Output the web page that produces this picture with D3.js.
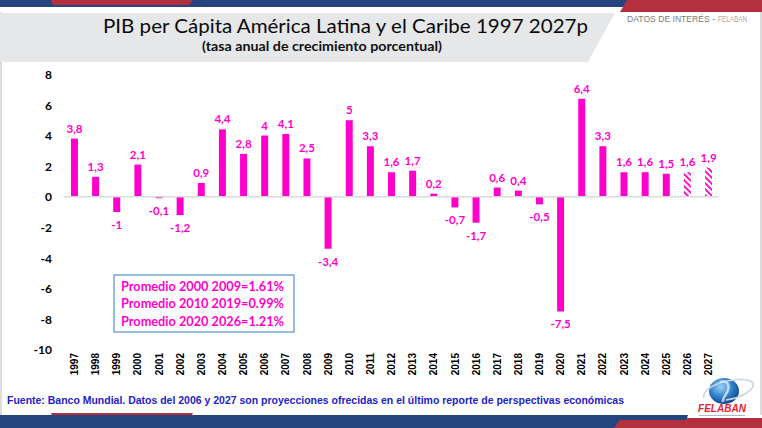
<!DOCTYPE html>
<html><head><meta charset="utf-8">
<script src="https://cdn.jsdelivr.net/npm/d3@7"></script>
<style>
html,body{margin:0;padding:0;background:#fff;}
svg{display:block;}
</style></head>
<body>
<svg id="chart" width="762" height="428"></svg>
<script>
const years = ["1997","1998","1999","2000","2001","2002","2003","2004","2005","2006","2007","2008","2009","2010","2011","2012","2013","2014","2015","2016","2017","2018","2019","2020","2021","2022","2023","2024","2025","2026","2027"];
const growth = [3.8,1.3,-1,2.1,-0.1,-1.2,0.9,4.4,2.8,4,4.1,2.5,-3.4,5,3.3,1.6,1.7,0.2,-0.7,-1.7,0.6,0.4,-0.5,-7.5,6.4,3.3,1.6,1.6,1.5,1.6,1.9];
const projectedYears = ["2026","2027"];
const yTicks = [8,6,4,2,0,-2,-4,-6,-8,-10];
const averages = ["Promedio 2000 2009=1.61%","Promedio 2010 2019=0.99%","Promedio 2020 2026=1.21%"];
const titleText = "PIB per Cápita América Latina y el Caribe 1997 2027p";
const subtitleText = "(tasa anual de crecimiento porcentual)";
const sourceText = "Fuente: Banco Mundial. Datos del 2006 y 2027 son proyecciones ofrecidas en el último reporte de perspectivas económicas";

const data = years.map((y,i)=>({year:y, value:growth[i], proj: projectedYears.includes(y)}));

const svg = d3.select("#chart");
const PINK = "#FF00CC";
const defs = svg.append("defs");
const pat = defs.append("pattern").attr("id","hatch").attr("patternUnits","userSpaceOnUse")
  .attr("width",6).attr("height",6);
pat.append("rect").attr("width",6).attr("height",6).attr("fill","#fff");
pat.append("path").attr("d","M0,0 L6,6 M-3,3 L3,9 M3,-3 L9,3").attr("stroke",PINK).attr("stroke-width",1.8);
const rg = defs.append("radialGradient").attr("id","globe").attr("cx","40%").attr("cy","35%").attr("r","70%");
rg.append("stop").attr("offset","0%").attr("stop-color","#9fd0f5");
rg.append("stop").attr("offset","55%").attr("stop-color","#2f7fc8");
rg.append("stop").attr("offset","100%").attr("stop-color","#0d3f86");

// Frame
svg.append("line").attr("x1",1).attr("x2",1).attr("y1",12).attr("y2",415).attr("stroke","#cfcfcf").attr("stroke-width",1.5);
svg.append("line").attr("x1",761).attr("x2",761).attr("y1",12).attr("y2",415).attr("stroke","#cfcfcf").attr("stroke-width",1.5);

// Top band
svg.append("rect").attr("x",0).attr("y",0).attr("width",762).attr("height",7).attr("fill","#26447E");
svg.append("polygon").attr("points","51,0 193,0 189,5 53,5").attr("fill","#B3313F");
svg.append("polygon").attr("points","627,0 762,0 762,12 620,12").attr("fill","#B3313F");
// Header gray band
svg.append("polygon").attr("points","0,13 615,13 588,62 0,62").attr("fill","#E6E7E8");

svg.append("text").attr("x",103).attr("y",33).attr("font-family","Lato, 'Open Sans', sans-serif")
  .attr("font-size",20).attr("fill","#0a0a0a").attr("textLength",485).attr("lengthAdjust","spacingAndGlyphs").text(titleText);
svg.append("text").attr("x",202).attr("y",51).attr("font-family","Lato, 'Open Sans', sans-serif")
  .attr("font-weight","bold").attr("font-size",13).attr("fill","#111").attr("textLength",240).attr("lengthAdjust","spacingAndGlyphs").text(subtitleText);
svg.append("text").attr("x",627).attr("y",21.5).attr("font-family","'Liberation Sans Narrow', 'Liberation Sans', sans-serif")
  .attr("font-size",9).attr("fill","#7a7a7a").attr("textLength",88).attr("lengthAdjust","spacingAndGlyphs").text("DATOS DE INTERÉS -");
svg.append("text").attr("x",718).attr("y",21.5).attr("font-family","'Liberation Sans Narrow', 'Liberation Sans', sans-serif")
  .attr("font-size",9).attr("fill","#a8a8a8").attr("textLength",29).attr("lengthAdjust","spacingAndGlyphs").text("FELABAN");

// Scales
const x = d3.scaleBand().domain(years).range([64,719]).paddingInner(0.67).paddingOuter(0.33);
const y = d3.scaleLinear().domain([-10,8]).range([349.7,74.3]);

// Y axis labels
const yAxis = d3.axisLeft(y).tickValues(yTicks).tickSize(0).tickPadding(0).tickFormat(d3.format("d"));
const ya = svg.append("g").attr("transform","translate(52,0)").call(yAxis);
ya.select(".domain").remove();
ya.selectAll("text").attr("font-family","Lato, 'Open Sans', sans-serif").attr("font-weight","bold")
  .attr("font-size",12).attr("fill","#000").attr("dy","0.35em").text(d=>d<0?"-"+Math.abs(d):d);

// Bars
svg.append("g").selectAll("rect").data(data).join("rect")
  .attr("x",d=>x(d.year)).attr("width",x.bandwidth())
  .attr("y",d=>y(Math.max(0,d.value))).attr("height",d=>Math.abs(y(d.value)-y(0)))
  .attr("fill",d=>d.proj?"url(#hatch)":PINK);

// Zero line
svg.append("line").attr("x1",64).attr("x2",719).attr("y1",y(0)).attr("y2",y(0)).attr("stroke","#d9d9d9").attr("stroke-width",1.5);

// Data labels
const fmt = v => String(v).replace(".",",");
svg.append("g").selectAll("text").data(data).join("text")
  .attr("x",d=>x(d.year)+x.bandwidth()/2)
  .attr("y",d=>d.value>=0? y(d.value)-6 : y(d.value)+17)
  .attr("text-anchor","middle").attr("font-family","Lato, 'Open Sans', sans-serif").attr("font-weight","bold")
  .attr("font-size",11.5).attr("fill",PINK).text(d=>fmt(d.value));

// X axis labels
const xAxis = d3.axisBottom(x).tickSize(0).tickPadding(0);
const xa = svg.append("g").attr("transform","translate(0,353)").call(xAxis);
xa.select(".domain").remove();
xa.selectAll("text").attr("transform","rotate(-90)").attr("text-anchor","end")
  .attr("x",0).attr("y",0).attr("dy","0.36em").attr("dx",0)
  .attr("font-family","'Liberation Sans', Arial, sans-serif").attr("font-weight","bold").attr("font-size",10).attr("fill","#000");

// Averages box
svg.append("rect").attr("x",114).attr("y",275).attr("width",180).attr("height",57)
  .attr("fill","#fff").attr("stroke","#5B9BD5").attr("stroke-width",1.3);
svg.append("g").selectAll("text").data(averages).join("text")
  .attr("x",121).attr("y",(d,i)=>291+i*17.3)
  .attr("font-family","Lato, 'Open Sans', sans-serif").attr("font-weight","bold").attr("font-size",12.5)
  .attr("fill",PINK).attr("textLength",163).attr("lengthAdjust","spacingAndGlyphs").text(d=>d);

// Source
svg.append("text").attr("x",7).attr("y",404).attr("font-family","'Liberation Sans Narrow', 'Liberation Sans', sans-serif")
  .attr("font-weight","bold").attr("font-size",11).attr("fill","#2222C8")
  .attr("textLength",617).attr("lengthAdjust","spacingAndGlyphs").text(sourceText);

// Bottom band
svg.append("polygon").attr("points","51,413 193,413 190,419 53,419").attr("fill","#B3313F");
svg.append("polygon").attr("points","0,415 688,415 684,428 0,428").attr("fill","#26447E");
svg.append("polygon").attr("points","614,428 620,420 686,420 687,418 762,418 762,428").attr("fill","#B3313F");

// Logo
const lg = svg.append("g");
lg.append("ellipse").attr("cx",724).attr("cy",391).attr("rx",15).attr("ry",13).attr("fill","url(#globe)");
lg.append("path").attr("d","M704,398 C700,386 738,374 752,382 C758,388 742,398 726,400").attr("fill","none").attr("stroke","#c9d6e3").attr("stroke-width",1.6);
lg.append("path").attr("d","M720,382 C726,380 730,384 728,390 C726,396 722,398 723,402").attr("fill","none").attr("stroke","#d8ecfa").attr("stroke-width",2.5).attr("opacity",0.8);
lg.append("text").attr("x",722).attr("y",412).attr("text-anchor","middle").attr("font-family","'Liberation Sans', Arial, sans-serif")
  .attr("font-weight","bold").attr("font-style","italic").attr("font-size",11).attr("fill","#E3262E").attr("textLength",48).attr("lengthAdjust","spacingAndGlyphs").text("FELABAN");
lg.append("line").attr("x1",699).attr("x2",745).attr("y1",415.5).attr("y2",415.5).attr("stroke","#9aa7b8").attr("stroke-width",0.8);
</script>
</body></html>
